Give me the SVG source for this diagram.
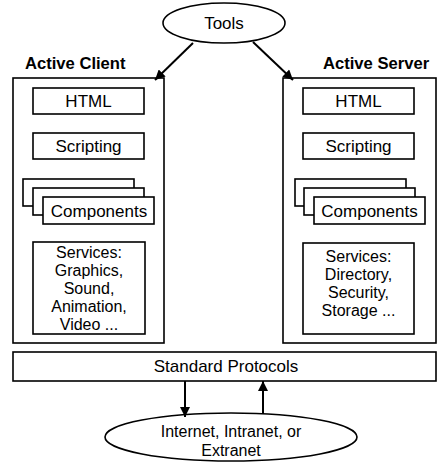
<svg xmlns="http://www.w3.org/2000/svg" width="440" height="464" viewBox="0 0 440 464">
<style>
.box{fill:#fff;stroke:#000;stroke-width:1.6}
.t{font-family:"Liberation Sans",Arial,sans-serif;font-size:17px;fill:#000;text-anchor:middle}
.s{font-size:16px}
.b{font-family:"Liberation Sans",Arial,sans-serif;font-size:16.6px;font-weight:bold;fill:#000}
.c{stroke:#000;stroke-width:2;fill:none}
</style>
<defs>
<marker id="ah" viewBox="0 0 10 10" refX="10" refY="5" markerWidth="11" markerHeight="10" markerUnits="userSpaceOnUse" orient="auto">
<path d="M0,0 L10,5 L0,10 z" fill="#000"/>
</marker>
</defs>
<rect width="440" height="464" fill="#fff"/>
<g id="tools">
<ellipse class="box" cx="224" cy="23" rx="61" ry="20"/>
<text class="t" x="224" y="29">Tools</text>
</g>
<g id="client">
<text class="b" x="25" y="69">Active Client</text>
<rect class="box" x="13" y="78" width="151" height="265"/>
<g id="client-html"><rect class="box" x="33" y="88" width="111" height="26"/><text class="t" x="88.5" y="107">HTML</text></g>
<g id="client-scripting"><rect class="box" x="33" y="133" width="111" height="26"/><text class="t" x="88.5" y="152">Scripting</text></g>
<g id="client-components">
<rect class="box" x="23" y="179" width="111" height="27"/>
<rect class="box" x="33" y="188" width="111" height="27"/>
<rect class="box" x="43" y="197" width="111" height="27"/>
<text class="t" x="99" y="216.5">Components</text>
</g>
<g id="client-services"><rect class="box" x="33" y="242" width="112" height="92"/>
<text class="t s" x="89" y="258">Services:</text>
<text class="t s" x="89" y="276">Graphics,</text>
<text class="t s" x="89" y="294">Sound,</text>
<text class="t s" x="89" y="312">Animation,</text>
<text class="t s" x="89" y="330">Video ...</text>
</g>
</g>
<g id="server">
<text class="b" x="323" y="69">Active Server</text>
<rect class="box" x="283" y="78" width="153" height="265"/>
<g id="server-html"><rect class="box" x="303" y="88" width="111" height="26"/><text class="t" x="358.5" y="107">HTML</text></g>
<g id="server-scripting"><rect class="box" x="303" y="133" width="111" height="26"/><text class="t" x="358.5" y="152">Scripting</text></g>
<g id="server-components">
<rect class="box" x="295" y="179" width="111" height="27"/>
<rect class="box" x="304" y="188" width="111" height="27"/>
<rect class="box" x="314" y="197" width="111" height="27"/>
<text class="t" x="369.5" y="216.5">Components</text>
</g>
<g id="server-services"><rect class="box" x="303" y="243" width="111" height="91"/>
<text class="t s" x="358.5" y="262">Services:</text>
<text class="t s" x="358.5" y="280">Directory,</text>
<text class="t s" x="358.5" y="298">Security,</text>
<text class="t s" x="358.5" y="316">Storage ...</text>
</g>
</g>
<g id="protocols">
<rect class="box" x="13" y="352" width="423" height="29"/>
<text class="t" x="226" y="372">Standard Protocols</text>
</g>
<g id="network">
<ellipse class="box" cx="231" cy="437" rx="126" ry="24"/>
<text class="t s" x="231" y="437">Internet, Intranet, or</text>
<text class="t s" x="231" y="456">Extranet</text>
</g>
<g id="connectors">
<line class="c" x1="193" y1="43" x2="155" y2="80" marker-end="url(#ah)"/>
<line class="c" x1="253" y1="42" x2="293" y2="80" marker-end="url(#ah)"/>
<line class="c" x1="185" y1="381" x2="185" y2="417" marker-end="url(#ah)"/>
<line class="c" x1="263" y1="414" x2="263" y2="381" marker-end="url(#ah)"/>
</g>
</svg>
